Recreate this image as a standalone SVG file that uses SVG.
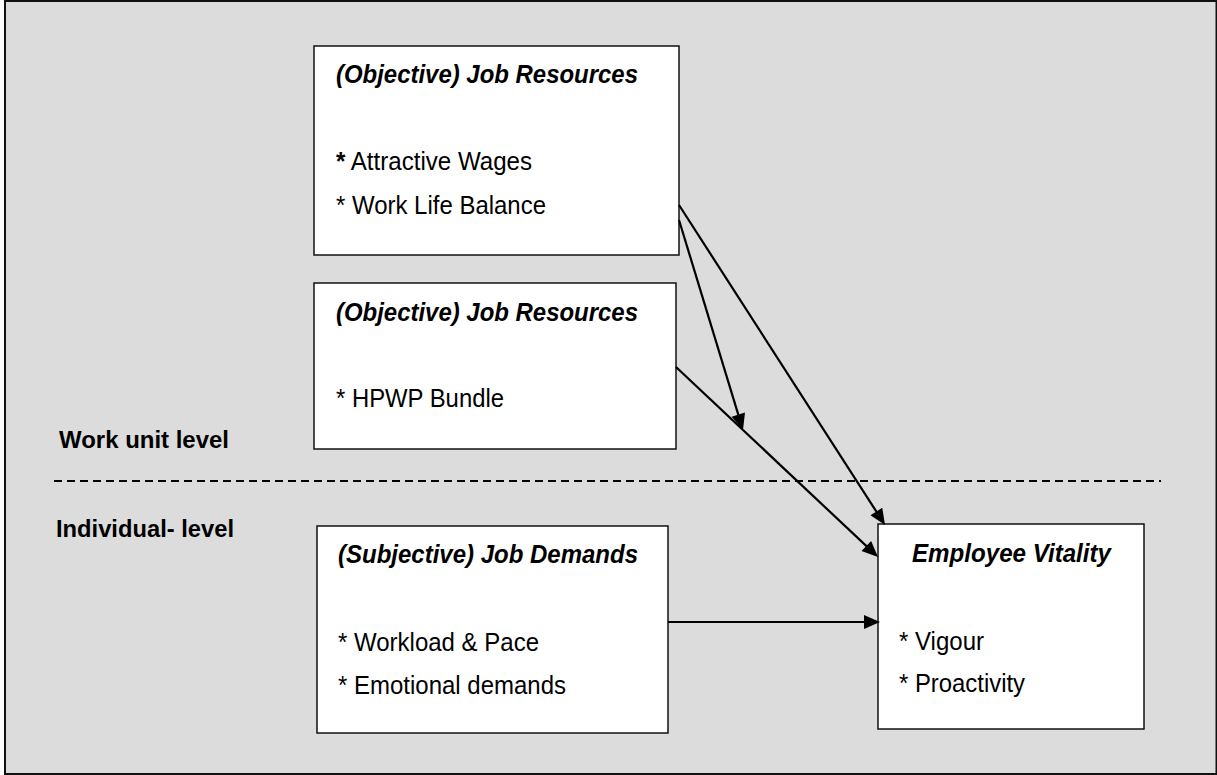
<svg xmlns="http://www.w3.org/2000/svg" width="1217" height="775" viewBox="0 0 1217 775">
  <style>
    .frame { fill: #dcdcdc; stroke: #111; stroke-width: 2; }
    .box { fill: #fff; stroke: #111; stroke-width: 1.5; }
    .title { font-family: "Liberation Sans", Arial, sans-serif; font-size: 25px; font-weight: bold; font-style: italic; fill: #000; }
    .item { font-family: "Liberation Sans", Arial, sans-serif; font-size: 25px; fill: #000; }
    .level { font-family: "Liberation Sans", Arial, sans-serif; font-size: 24.5px; font-weight: bold; fill: #000; }
    .edge { fill: none; stroke: #000; stroke-width: 2.2; }
    .divider { fill: none; stroke: #000; stroke-width: 2; stroke-dasharray: 8 5; }
  </style>
  <defs>
    <marker id="arrow" markerUnits="userSpaceOnUse" markerWidth="16" markerHeight="14" refX="13" refY="7" orient="auto" overflow="visible">
      <path d="M0,0 L16,7 L0,14 Z" fill="#000"/>
    </marker>
  </defs>

  <!-- background panel -->
  <rect class="frame" x="5" y="1" width="1211.5" height="773"/>

  <!-- level separator and labels -->
  <g id="levels">
    <line class="divider" x1="54" y1="481" x2="1161" y2="481"/>
    <text class="level" x="59" y="448" textLength="170" lengthAdjust="spacingAndGlyphs">Work unit level</text>
    <text class="level" x="56" y="537" textLength="178" lengthAdjust="spacingAndGlyphs">Individual- level</text>
  </g>

  <g id="job-resources-1">
    <rect class="box" x="314" y="46" width="365" height="209"/>
    <text class="title" x="336" y="83" textLength="302" lengthAdjust="spacingAndGlyphs">(Objective) Job Resources</text>
    <text class="item" x="336" y="170" textLength="196" lengthAdjust="spacingAndGlyphs"><tspan font-weight="bold">*</tspan> Attractive Wages</text>
    <text class="item" x="336" y="214" textLength="210" lengthAdjust="spacingAndGlyphs">* Work Life Balance</text>
  </g>

  <g id="job-resources-2">
    <rect class="box" x="314" y="283" width="362" height="166"/>
    <text class="title" x="336" y="321" textLength="302" lengthAdjust="spacingAndGlyphs">(Objective) Job Resources</text>
    <text class="item" x="336" y="407" textLength="168" lengthAdjust="spacingAndGlyphs">* HPWP Bundle</text>
  </g>

  <g id="job-demands">
    <rect class="box" x="317" y="526" width="351" height="207"/>
    <text class="title" x="338" y="563" textLength="300" lengthAdjust="spacingAndGlyphs">(Subjective) Job Demands</text>
    <text class="item" x="338" y="651" textLength="201" lengthAdjust="spacingAndGlyphs">* Workload &amp; Pace</text>
    <text class="item" x="338" y="694" textLength="228" lengthAdjust="spacingAndGlyphs">* Emotional demands</text>
  </g>

  <g id="employee-vitality">
    <rect class="box" x="878" y="524" width="266" height="205"/>
    <text class="title" x="912" y="562" textLength="199" lengthAdjust="spacingAndGlyphs">Employee Vitality</text>
    <text class="item" x="899" y="650" textLength="85" lengthAdjust="spacingAndGlyphs">* Vigour</text>
    <text class="item" x="899" y="692" textLength="126" lengthAdjust="spacingAndGlyphs">* Proactivity</text>
  </g>

  <g id="connectors">
    <line class="edge" x1="679" y1="205" x2="883.4" y2="522.5" marker-end="url(#arrow)"/>
    <line class="edge" x1="679" y1="220" x2="742.1" y2="427.1" marker-end="url(#arrow)"/>
    <line class="edge" x1="676" y1="367" x2="875.8" y2="554.9" marker-end="url(#arrow)"/>
    <line class="edge" x1="668" y1="622" x2="877" y2="622" marker-end="url(#arrow)"/>
  </g>
</svg>
